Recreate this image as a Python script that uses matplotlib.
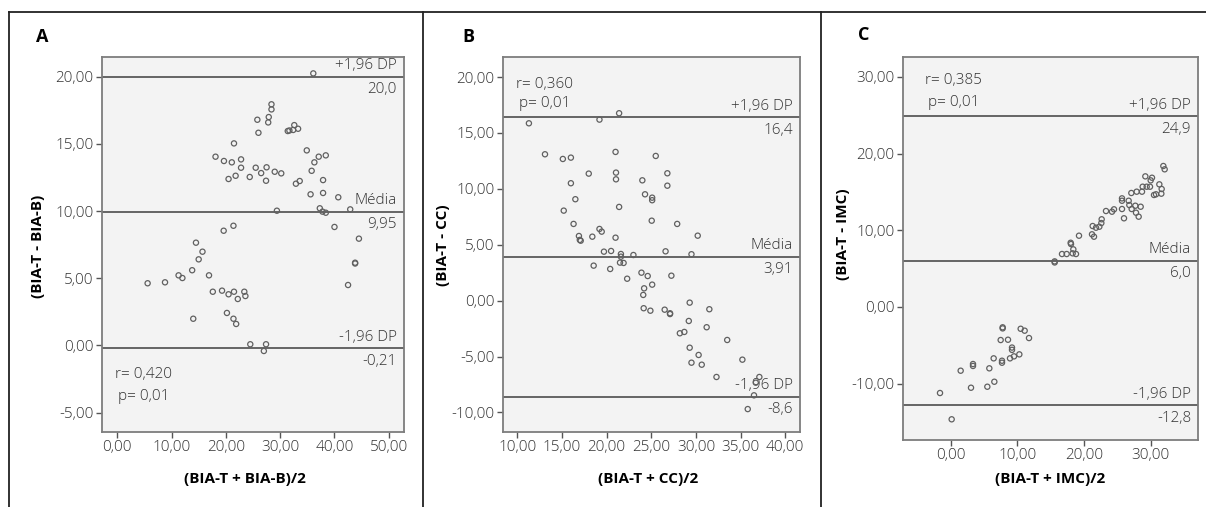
import matplotlib
matplotlib.use("Agg")
import matplotlib.pyplot as plt
from matplotlib.lines import Line2D

plt.rcParams['font.family'] = ['Open Sans', 'DejaVu Sans']

# ---------------- data ----------------
A_x = [36.1, 28.4, 28.4, 27.9, 27.8, 25.8, 26.0, 31.4, 31.7, 32.4,
       32.6, 33.3, 21.5, 18.1, 19.65, 21.1, 22.8, 22.8, 20.5, 21.8,
       24.4, 25.5, 26.5, 27.5, 27.4, 29.0, 30.2, 34.9, 37.1, 38.4,
       36.3, 35.8, 32.9, 33.6, 37.9, 35.6, 37.9, 40.7, 29.4, 37.3,
       37.8, 38.4, 42.9, 19.6, 21.4, 40.0, 44.5, 14.5, 15.7, 15.0,
       13.8, 5.6, 8.8, 11.3, 12.0, 16.9, 17.6, 19.3, 20.5, 21.5,
       22.2, 23.4, 23.6, 14.0, 20.2, 21.4, 21.9, 24.5, 27.4, 27.0,
       43.8, 43.8, 42.5]
A_y = [20.25, 17.95, 17.57, 17.0, 16.6, 16.8, 15.83, 15.96, 16.0, 16.04,
       16.4, 16.13, 15.04, 14.05, 13.73, 13.63, 13.85, 13.23, 12.39, 12.63,
       12.54, 13.23, 12.83, 13.26, 12.26, 12.93, 12.81, 14.52, 14.05, 14.15,
       13.63, 13.0, 12.04, 12.24, 12.31, 11.25, 11.35, 11.03, 10.03, 10.21,
       9.96, 9.88, 10.13, 8.54, 8.91, 8.82, 7.95, 7.65, 6.98, 6.41,
       5.6, 4.63, 4.70, 5.22, 5.02, 5.22, 4.0, 4.08, 3.81, 4.0,
       3.46, 4.0, 3.68, 1.99, 2.42, 1.99, 1.60, 0.09, 0.09, -0.41,
       6.16, 6.1, 4.5]

B_x = [11.3, 19.2, 21.4, 13.1, 15.1, 16.0, 21.0, 25.5, 18.0, 21.05,
       21.05, 24.0, 26.8, 26.8, 16.0, 16.5, 24.3, 25.1, 25.1, 21.4,
       15.2, 16.3, 25.05, 27.9, 30.2, 16.9, 17.0, 18.4, 19.2, 19.45,
       21.0, 17.1, 19.7, 20.5, 21.6, 21.6, 23.0, 26.6, 29.5, 18.55,
       20.4, 21.5, 21.9, 22.3, 23.9, 24.6, 27.25, 25.1, 24.2, 24.1,
       24.15, 24.9, 26.5, 27.1, 27.1, 29.3, 31.5, 29.2, 31.2, 28.2,
       28.7, 33.5, 29.3, 30.3, 29.5, 30.65, 32.3, 35.2, 37.1, 36.7,
       36.5, 35.8]
B_y = [15.86, 16.19, 16.76, 13.09, 12.67, 12.79, 13.3, 12.94, 11.36, 11.45,
       10.85, 10.76, 11.39, 10.28, 10.5, 9.07, 9.51, 9.21, 8.98, 8.38,
       8.05, 6.86, 7.15, 6.86, 5.81, 5.78, 5.43, 5.72, 6.41, 6.17,
       5.63, 5.36, 4.38, 4.44, 4.17, 3.93, 4.08, 4.41, 4.15, 3.13,
       2.83, 3.4, 3.37, 1.96, 2.5, 2.2, 2.23, 1.43, 1.1, 0.51,
       -0.68, -0.90, -0.81, -1.13, -1.2, -0.18, -0.77, -1.82, -2.38, -2.92,
       -2.8, -3.52, -4.21, -4.86, -5.55, -5.73, -6.83, -5.28, -6.83, -7.34,
       -8.47, -9.7]

C_x = [31.9, 32.1, 29.2, 30.2, 30.0, 28.8, 29.4, 29.9, 31.3, 31.65,
       31.6, 30.5, 30.8, 28.7, 27.9, 27.1, 25.7, 25.7, 26.7, 26.8,
       27.7, 28.5, 27.15, 25.7, 28.2, 27.8, 26.0, 24.5, 24.2, 23.3,
       22.65, 22.6, 22.3, 21.8, 21.3, 21.2, 21.5, 19.25, 18.0, 18.05,
       18.4, 18.8, 16.7, 17.4, 18.3, 15.6, 15.6,
       7.8, 7.8, 10.5, 11.1, 11.75, 7.5, 8.6, 9.2, 9.2, 10.3,
       9.5, 8.9, 7.7, 7.7, 6.45, 5.8, 3.35, 3.35, 1.5, 3.05,
       5.5, 6.55, -1.6, 0.15]
C_y = [18.38, 17.95, 17.03, 16.85, 16.51, 15.68, 15.68, 15.68, 15.99, 15.38,
       14.77, 14.6, 14.69, 15.03, 15.03, 14.86, 14.16, 13.85, 13.85, 13.29,
       13.2, 13.07, 12.77, 12.77, 11.77, 12.29, 11.56, 12.73, 12.42, 12.51,
       11.43, 10.94, 10.46, 10.33, 10.55, 9.47, 9.16, 9.29, 8.37, 8.2,
       7.51, 6.9, 6.9, 6.9, 6.99, 5.94, 5.8,
       -2.66, -2.8, -2.85, -3.1, -4.06, -4.32, -4.28, -5.3, -5.6, -6.19,
       -6.45, -6.71, -7.02, -7.28, -6.71, -8.01, -7.45, -7.7, -8.32, -10.54,
       -10.41, -9.76, -11.23, -14.66]

# Bland-Altman reference lines: upper, mean, lower
A_lines = [20.0, 9.95, -0.21]
B_lines = [16.4, 3.91, -8.6]
C_lines = [24.9, 6.0, -12.8]
A_line_labels = ["20,0", "9,95", "-0,21"]
B_line_labels = ["16,4", "3,91", "-8,6"]
C_line_labels = ["24,9", "6,0", "-12,8"]
line_names = ["+1,96 DP", "Média", "-1,96 DP"]

A_stats = ["r= 0,420", "p= 0,01"]
B_stats = ["r= 0,360", "p= 0,01"]
C_stats = ["r= 0,385", "p= 0,01"]

A_xticks = [0, 10, 20, 30, 40, 50]
A_yticks = [-5, 0, 5, 10, 15, 20]
B_xticks = [10, 15, 20, 25, 30, 35, 40]
B_yticks = [-10, -5, 0, 5, 10, 15, 20]
C_xticks = [0, 10, 20, 30]
C_yticks = [-10, 0, 10, 20, 30]

panel_letters = ["A", "B", "C"]
x_labels = ["(BIA-T + BIA-B)/2", "(BIA-T + CC)/2", "(BIA-T + IMC)/2"]
y_labels = ["(BIA-T - BIA-B)", "(BIA-T - CC)", "(BIA-T - IMC)"]

# ---------------- layout ----------------
W, H = 1206, 507
fig = plt.figure(figsize=(W / 100, H / 100), dpi=100)
fig.patch.set_facecolor("white")


def px_rect(l, r, t, b):
    return [l / W, (H - b) / H, (r - l) / W, (b - t) / H]


def fmt(v):
    return f"{v:.2f}".replace(".", ",")


panels = [
    dict(rect=px_rect(102, 404, 57, 432), x=A_x, y=A_y, lines=A_lines, lab=A_line_labels,
         stats=A_stats, xt=A_xticks, yt=A_yticks, xlim=(-2.8, 52.8), ylim=(-6.44, 21.47),
         stat_pos=[(115, 375), (118, 397)], letter=(41.7, 36.7), xl=(245, 479), yl=(38, 246)),
    dict(rect=px_rect(503, 800, 57, 432), x=B_x, y=B_y, lines=B_lines, lab=B_line_labels,
         stats=B_stats, xt=B_xticks, yt=B_yticks, xlim=(8.4, 41.65), ylim=(-11.75, 21.79),
         stat_pos=[(516, 84), (519, 104)], letter=(468.3, 36.7), xl=(648, 479), yl=(443, 245)),
    dict(rect=px_rect(903, 1198, 57, 440), x=C_x, y=C_y, lines=C_lines, lab=C_line_labels,
         stats=C_stats, xt=C_xticks, yt=C_yticks, xlim=(-7.15, 37.1), ylim=(-17.36, 32.6),
         stat_pos=[(925, 81), (928, 103)], letter=(863.3, 35.5), xl=(1050, 479), yl=(843, 234)),
]

spine_col = "#7d7d7d"
line_col = "#5a5a5a"
text_col = "#333333"

for i, p in enumerate(panels):
    ax = fig.add_axes(p["rect"])
    ax.set_facecolor("#f3f3f3")
    ax.set_xlim(*p["xlim"])
    ax.set_ylim(*p["ylim"])
    for s in ax.spines.values():
        s.set_color(spine_col)
        s.set_linewidth(1.3)
    ax.set_xticks(p["xt"])
    ax.set_xticklabels([fmt(v) for v in p["xt"]])
    ax.set_yticks(p["yt"])
    ax.set_yticklabels([fmt(v) for v in p["yt"]])
    ax.tick_params(axis="both", direction="out", length=4, width=1, color="#555555",
                   labelsize=11, labelcolor=text_col, pad=2)
    for lab in ax.get_xticklabels() + ax.get_yticklabels():
        lab.set_fontweight("light")

    for val, vlab, name in zip(p["lines"], p["lab"], line_names):
        ax.axhline(val, color=line_col, lw=1.3, zorder=2)
        ax.annotate(name, xy=(1, val), xycoords=("axes fraction", "data"),
                    xytext=(-7, 11), textcoords="offset pixels", ha="right", va="center",
                    fontsize=11, color=text_col, fontweight="light")
        ax.annotate(vlab, xy=(1, val), xycoords=("axes fraction", "data"),
                    xytext=(-7, -13), textcoords="offset pixels", ha="right", va="center",
                    fontsize=11, color=text_col, fontweight="light")

    ax.scatter(p["x"], p["y"], s=14, facecolors="none", edgecolors="#606060",
               linewidths=0.9, zorder=3)

    for txt, (tx, ty) in zip(p["stats"], p["stat_pos"]):
        fig.text(tx / W, 1 - ty / H, txt, ha="left", va="center", fontsize=11,
                 color=text_col, fontweight="light")

    lx, ly = p["letter"]
    fig.text(lx / W, 1 - ly / H, panel_letters[i], ha="center", va="center",
             fontsize=13, fontweight="bold", color="black")
    xx, xy = p["xl"]
    fig.text(xx / W, 1 - xy / H, x_labels[i], ha="center", va="center",
             fontsize=11, fontweight="bold", color="black")
    yx, yy = p["yl"]
    fig.text(yx / W, 1 - yy / H, y_labels[i], ha="center", va="center", rotation=90,
             fontsize=11, fontweight="bold", color="black")

# frame lines
frame_kw = dict(color="#222222", lw=1.3, transform=fig.transFigure)
fig.add_artist(Line2D([9.3 / W, 1], [1 - 11.7 / H, 1 - 11.7 / H], **frame_kw))
for xv in [9.3, 422.7, 821]:
    fig.add_artist(Line2D([xv / W, xv / W], [0, 1 - 11.7 / H], **frame_kw))

fig.savefig("out.png", dpi=100)
